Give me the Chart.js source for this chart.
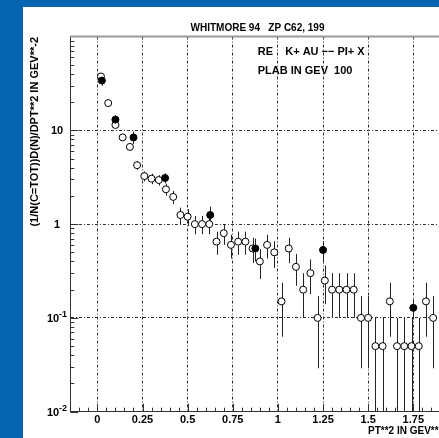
<!DOCTYPE html>
<html>
<head>
<meta charset="utf-8">
<script src="https://cdn.jsdelivr.net/npm/chart.js@4.4.0/dist/chart.umd.min.js"></script>
<style>
  html, body { margin: 0; padding: 0; background: #0565b1; overflow: hidden; width: 439px; height: 438px; }
  #panel { position: absolute; left: 23px; top: 7px; width: 430px; height: 431px; background: #fff; }
</style>
</head>
<body>
<div id="panel"><canvas id="myChart"></canvas></div>
<script>
// open circles
const openX = [0.02, 0.06, 0.10, 0.14, 0.18, 0.22, 0.26, 0.30, 0.34, 0.38, 0.42, 0.46, 0.50, 0.54, 0.58, 0.62,
  0.66, 0.70, 0.74, 0.78, 0.82, 0.86, 0.90, 0.94, 0.98, 1.02, 1.06, 1.10, 1.14, 1.18, 1.22, 1.26,
  1.30, 1.34, 1.38, 1.42, 1.46, 1.50, 1.54, 1.58, 1.62, 1.66, 1.70, 1.74, 1.78, 1.82, 1.86];
const openY = [37.5, 19.5, 11.4, 8.4, 6.65, 4.25, 3.25, 3.05, 2.95, 2.35, 1.95, 1.25, 1.2, 1.0, 1.0, 1.0,
  0.65, 0.8, 0.6, 0.65, 0.65, 0.55, 0.4, 0.6, 0.5, 0.15, 0.55, 0.35, 0.2, 0.3, 0.1, 0.25,
  0.2, 0.2, 0.2, 0.2, 0.1, 0.1, 0.05, 0.05, 0.15, 0.05, 0.05, 0.05, 0.05, 0.15, 0.1];
const openErr = [1.37, 0.99, 0.75, 0.65, 0.57, 0.46, 0.40, 0.39, 0.38, 0.34, 0.31, 0.25, 0.245, 0.22, 0.22, 0.22,
  0.18, 0.2, 0.17, 0.18, 0.18, 0.166, 0.14, 0.17, 0.16, 0.087, 0.166, 0.13, 0.1, 0.12, 0.071, 0.11,
  0.1, 0.1, 0.1, 0.1, 0.071, 0.071, 0.05, 0.05, 0.087, 0.05, 0.05, 0.05, 0.05, 0.087, 0.071];

// filled circles
const fullX = [0.025, 0.1, 0.2, 0.375, 0.625, 0.875, 1.25, 1.75];
const fullY = [33.9, 13.0, 8.4, 3.1, 1.25, 0.55, 0.53, 0.128];
const fullErr = [4, 1.5, 1.3, 0.38, 0.28, 0.15, 0.13, 0.03];

const xTicks = [0, 0.25, 0.5, 0.75, 1, 1.25, 1.5, 1.75];
const xTickLabels = ['0', '0.25', '0.5', '0.75', '1', '1.25', '1.5', '1.75'];
const yTicks = [0.01, 0.1, 1, 10];
const yTickBase = ['10', '10', '1', '10'];
const yTickSup = ['-2', '-1', '', ''];

const FONT = '"Liberation Sans", Arial, sans-serif';

const paper = {
  id: 'paper',
  beforeDatasetsDraw(chart) {
    const ctx = chart.ctx, xs = chart.scales.x, ys = chart.scales.y, a = chart.chartArea;
    ctx.save();
    ctx.beginPath();
    ctx.rect(a.left, a.top, a.right - a.left, a.bottom - a.top);
    ctx.clip();
    ctx.strokeStyle = '#222';
    ctx.lineWidth = 1;
    chart.data.datasets.forEach(ds => {
      ds.data.forEach((p, i) => {
        const px = Math.round(xs.getPixelForValue(p.x)) + 0.5;
        const lo = p.y - ds.err[i];
        const hi = p.y + ds.err[i];
        const y0 = lo > 0 ? ys.getPixelForValue(lo) : a.bottom;
        const y1 = ys.getPixelForValue(hi);
        ctx.beginPath();
        ctx.moveTo(px, y0);
        ctx.lineTo(px, y1);
        ctx.stroke();
      });
    });
    ctx.restore();
  },
  afterDraw(chart) {
    const ctx = chart.ctx, xs = chart.scales.x, ys = chart.scales.y, a = chart.chartArea;
    ctx.save();

    // top frame
    ctx.strokeStyle = '#999';
    ctx.lineWidth = 2;
    ctx.beginPath();
    ctx.moveTo(a.left, a.top);
    ctx.lineTo(a.right, a.top);
    ctx.stroke();

    // minor / major ticks
    ctx.strokeStyle = '#333';
    ctx.lineWidth = 1;
    ctx.beginPath();
    for (let d = -2; d <= 1; d++) {
      for (let m = 1; m <= 9; m++) {
        const v = m * Math.pow(10, d);
        const py = Math.round(ys.getPixelForValue(v)) + 0.5;
        ctx.moveTo(a.left, py);
        ctx.lineTo(a.left + (m === 1 ? 8 : 4), py);
      }
    }
    for (let k = -3; k <= 38; k++) {
      const v = k * 0.05;
      const px = Math.round(xs.getPixelForValue(v)) + 0.5;
      ctx.moveTo(px, a.bottom);
      ctx.lineTo(px, a.bottom - (k % 5 === 0 ? 8 : 4));
    }
    ctx.stroke();

    ctx.fillStyle = '#000';
    ctx.textBaseline = 'middle';

    // x tick labels
    ctx.font = 'bold 11px ' + FONT;
    ctx.textAlign = 'center';
    xTicks.forEach((v, i) => ctx.fillText(xTickLabels[i], xs.getPixelForValue(v), 413));

    // y tick labels with exponents
    ctx.textAlign = 'left';
    yTicks.forEach((v, i) => {
      const py = ys.getPixelForValue(v);
      ctx.font = 'bold 11px ' + FONT;
      const wb = ctx.measureText(yTickBase[i]).width;
      ctx.font = 'bold 9px ' + FONT;
      const ws = yTickSup[i] ? ctx.measureText(yTickSup[i]).width : 0;
      const x0 = 34 - (wb + ws) / 2;
      ctx.font = 'bold 11px ' + FONT;
      ctx.fillText(yTickBase[i], x0, py + 1);
      if (yTickSup[i]) {
        ctx.font = 'bold 9px ' + FONT;
        ctx.fillText(yTickSup[i], x0 + wb, py - 3);
      }
    });

    // title and annotations
    ctx.font = 'bold 10px ' + FONT;
    ctx.textAlign = 'center';
    ctx.fillText('WHITMORE 94   ZP C62, 199', 234.5, 21);
    ctx.textAlign = 'left';
    ctx.font = 'bold 11px ' + FONT;
    ctx.fillText('RE    K+ AU \u2212\u2212 PI+ X', 234.7, 45);
    ctx.fillText('PLAB IN GEV  100', 234.7, 64);

    // x axis title
    ctx.font = 'bold 10px ' + FONT;
    ctx.fillText('PT**2 IN GEV**2', 345, 424.5);

    // y axis title
    ctx.font = 'bold 11px ' + FONT;
    ctx.translate(12, 30);
    ctx.rotate(-Math.PI / 2);
    ctx.textAlign = 'right';
    ctx.fillText('(1/N(C=TOT))D(N)/DPT**2 IN GEV**-2', 0, 0);

    ctx.restore();
  }
};

const data = {
  datasets: [{
    label: 'filled',
    data: fullX.map((x, i) => ({x: x, y: fullY[i]})),
    err: fullErr,
    pointStyle: 'circle',
    pointRadius: 3.5,
    pointBackgroundColor: '#000',
    pointBorderColor: '#000',
    pointBorderWidth: 1,
    showLine: false
  }, {
    label: 'open',
    data: openX.map((x, i) => ({x: x, y: openY[i]})),
    err: openErr,
    pointStyle: 'circle',
    pointRadius: 3.5,
    pointBackgroundColor: '#fff',
    pointBorderColor: '#000',
    pointBorderWidth: 1,
    showLine: false
  }]
};

const config = {
  type: 'scatter',
  data: data,
  options: {
    responsive: true,
    maintainAspectRatio: false,
    animation: false,
    devicePixelRatio: 1,
    layout: { padding: { left: 47.3, top: 29.5, right: 9, bottom: 26.3 } },
    plugins: {
      legend: { display: false },
      tooltip: { enabled: false }
    },
    scales: {
      x: {
        type: 'linear',
        min: -0.15,
        max: 1.92,
        afterBuildTicks: s => { s.ticks = xTicks.map(v => ({value: v})); },
        ticks: { display: false },
        grid: { color: '#333', lineWidth: 1, drawTicks: false },
        border: { display: true, color: '#333', width: 1, dash: [3, 2, 1, 2] }
      },
      y: {
        type: 'logarithmic',
        min: 0.01,
        max: 100,
        afterBuildTicks: s => { s.ticks = [0.1, 1, 10].map(v => ({value: v})); },
        ticks: { display: false },
        grid: { color: '#333', lineWidth: 1, drawTicks: false },
        border: { display: true, color: '#333', width: 1, dash: [3, 2, 1, 2] }
      }
    }
  },
  plugins: [paper]
};

const myChart = new Chart(document.getElementById('myChart'), config);
</script>
</body>
</html>
